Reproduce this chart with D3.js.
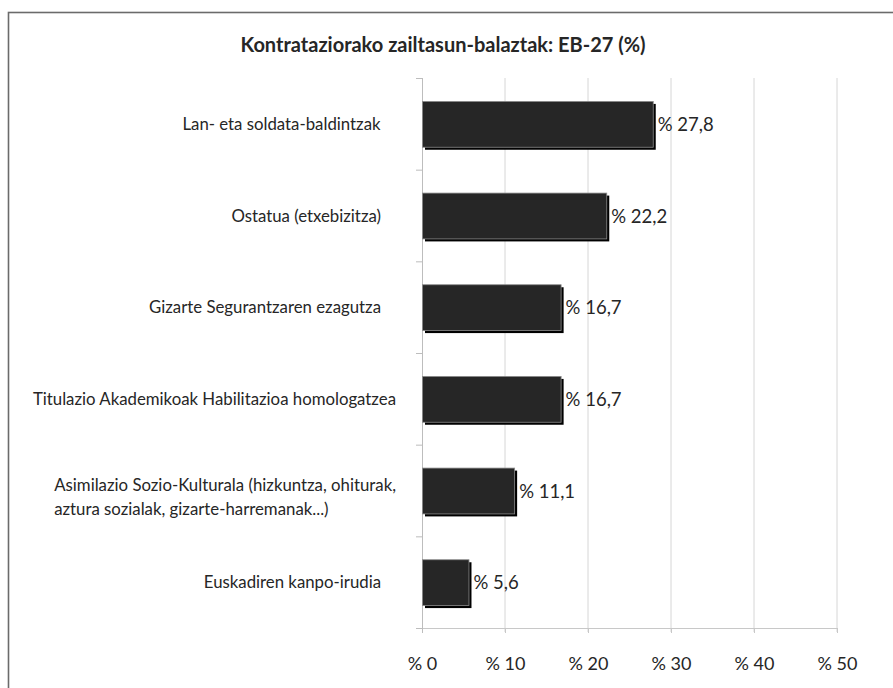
<!DOCTYPE html>
<html><head><meta charset="utf-8">
<script src="https://cdn.jsdelivr.net/npm/d3@7"></script>
<style>body{margin:0;background:#fff;} svg{display:block;}</style>
</head><body>
<svg id="c" width="893" height="688"></svg>
<script>
const title = "Kontrataziorako zailtasun-balaztak: EB-27 (%)";
const categories = [
  ["Lan- eta soldata-baldintzak"],
  ["Ostatua (etxebizitza)"],
  ["Gizarte Segurantzaren ezagutza"],
  ["Titulazio Akademikoak Habilitazioa homologatzea"],
  ["Asimilazio Sozio-Kulturala (hizkuntza, ohiturak,", "aztura sozialak, gizarte-harremanak...)"],
  ["Euskadiren kanpo-irudia"]
];
const values = [27.8, 22.2, 16.7, 16.7, 11.1, 5.6];
const valueLabels = ["% 27,8", "% 22,2", "% 16,7", "% 16,7", "% 11,1", "% 5,6"];
const xTicks = [0, 10, 20, 30, 40, 50];
const xTickLabels = ["% 0", "% 10", "% 20", "% 30", "% 40", "% 50"];

const svg = d3.select("#c");
const font = "Lato, 'Open Sans', sans-serif";
const pLeft = 422, pRight = 837, pTop = 78, pBottom = 628;

// frame
svg.append("rect").attr("x", 8.5).attr("y", 12.5).attr("width", 900).attr("height", 700)
  .attr("fill", "#fff").attr("stroke", "#6b6b6b").attr("stroke-width", 1.6);

svg.append("text").attr("x", 443).attr("y", 52).attr("text-anchor", "middle")
  .attr("font-family", font).attr("font-weight", "bold").attr("font-size", 20)
  .attr("fill", "#262626").text(title);

const x = d3.scaleLinear().domain([0, 50]).range([pLeft, pRight]);
const idx = categories.map((d, i) => i);
const y = d3.scaleBand().domain(idx).range([pTop, pBottom]).paddingInner(0.5).paddingOuter(0.25);

// gridlines
svg.append("g").selectAll("line").data(xTicks.slice(1)).join("line")
  .attr("x1", d => x(d)).attr("x2", d => x(d)).attr("y1", pTop).attr("y2", pBottom + 4)
  .attr("stroke", "#d6d6d6").attr("stroke-width", 1);

// x axis
const xa = svg.append("g").attr("transform", `translate(0,${pBottom})`)
  .call(d3.axisBottom(x).tickValues(xTicks).tickFormat((d, i) => xTickLabels[i]).tickSize(5).tickPadding(24));
xa.select(".domain").attr("stroke", "#c8c8c8");
xa.selectAll(".tick line").attr("stroke", "#c8c8c8");
xa.selectAll("text").attr("font-family", font).attr("font-size", 18).attr("fill", "#262626");

// y axis line & category ticks
const yb = d3.scaleLinear().domain([0, categories.length]).range([pTop, pBottom]);
svg.append("line").attr("x1", pLeft + 0.5).attr("x2", pLeft + 0.5).attr("y1", pTop).attr("y2", pBottom + 5)
  .attr("stroke", "#bdbdbd");
svg.append("g").selectAll("line").data(d3.range(categories.length + 1)).join("line")
  .attr("x1", pLeft - 6).attr("x2", pLeft).attr("y1", d => yb(d) + 0.5).attr("y2", d => yb(d) + 0.5)
  .attr("stroke", "#bdbdbd");

// category labels
const labelRight = 381;
const lg = svg.append("g").attr("font-family", font).attr("font-size", 16.8).attr("fill", "#262626");
categories.forEach((lines, i) => {
  const cy = y(i) + y.bandwidth() / 2;
  const t = lg.append("text").attr("text-anchor", "start");
  const n = lines.length;
  lines.forEach((ln, j) => {
    t.append("tspan").attr("x", 0).attr("y", cy + (j - (n - 1) / 2) * 24 + 6 + (n > 1 ? 6 : 0)).text(ln);
  });
  const w = t.node().getBBox().width;
  let xr = labelRight;
  if (w > 330) xr = 396;
  t.attr("transform", `translate(${xr - w},0)`);
});

// bars with shadow
const bars = svg.append("g");
bars.selectAll("rect.shadow").data(values).join("rect").attr("class", "shadow")
  .attr("x", pLeft + 3).attr("y", (d, i) => y(i) + 3)
  .attr("width", d => x(d) - pLeft).attr("height", y.bandwidth())
  .attr("fill", "#000");
bars.selectAll("rect.bar").data(values).join("rect").attr("class", "bar")
  .attr("x", pLeft + 0.5).attr("y", (d, i) => y(i) + 0.5)
  .attr("width", d => x(d) - pLeft).attr("height", y.bandwidth())
  .attr("fill", "#262626").attr("stroke", "#8a8a8a").attr("stroke-width", 0.8);

// value labels
svg.append("g").selectAll("text").data(values).join("text")
  .attr("x", d => x(d) + 5).attr("y", (d, i) => y(i) + y.bandwidth() / 2 + 7)
  .attr("font-family", font).attr("font-size", 18.5).attr("fill", "#262626")
  .text((d, i) => valueLabels[i]);
</script>
</body></html>
